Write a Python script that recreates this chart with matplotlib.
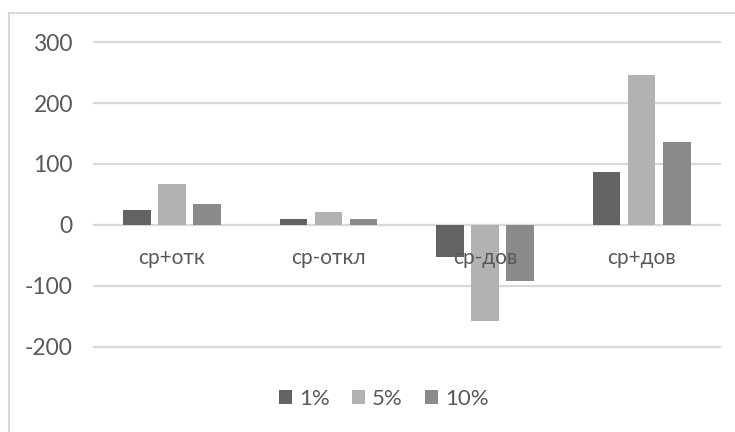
import matplotlib
matplotlib.use("Agg")
import matplotlib.pyplot as plt
from matplotlib.lines import Line2D
import numpy as np

# Grey palette
C_1 = "#636363"
C_5 = "#B2B2B2"
C_10 = "#8A8A8A"
C_GRID = "#D9D9D9"
C_TEXT = "#595959"

categories = ["ср+отк", "ср-откл", "ср-дов", "ср+дов"]
series_names = ["1%", "5%", "10%"]
vals_1 = [25, 10, -52, 87]
vals_5 = [67, 21, -158, 246]
vals_10 = [34, 9, -92, 136]
y_ticks = [-200, -100, 0, 100, 200, 300]

plt.rcParams.update({
    "font.family": ["Lato", "DejaVu Sans"],
    "font.size": 15,
    "text.color": C_TEXT,
})

fig = plt.figure(figsize=(7.35, 4.32), dpi=100)
ax = fig.add_axes([0.1275, 0.1975, 0.852, 0.705])

x = np.arange(len(categories))
w = 0.176
step = 0.224
series = [vals_1, vals_5, vals_10]
colors = [C_1, C_5, C_10]
for k, (vals, col, name) in enumerate(zip(series, colors, series_names)):
    ax.bar(x + (k - 1) * step, vals, width=w, color=col, label=name, zorder=1)

# horizontal gridlines drawn under the bars
for t in y_ticks:
    ax.axhline(t, color=C_GRID, lw=1.6, zorder=0, clip_on=False)

ax.set_xlim(-0.5, 3.5)
ax.set_ylim(-200, 300)
ax.set_yticks(y_ticks)
ax.set_yticklabels([str(t) for t in y_ticks], color=C_TEXT, fontsize=16.5)

ax.spines["bottom"].set_position(("data", 0))
for s in ax.spines.values():
    s.set_visible(False)
ax.set_xticks(x)
ax.set_xticklabels(categories, color=C_TEXT, fontsize=15)
ax.tick_params(axis="x", length=0, pad=17)
ax.tick_params(axis="y", length=0, pad=15)

leg = fig.legend(loc="center", bbox_to_anchor=(0.522, 0.076), ncol=3,
                 frameon=False, fontsize=16, handlelength=0.6,
                 handleheight=0.6, handletextpad=0.3, columnspacing=1.0)
for txt in leg.get_texts():
    txt.set_color(C_TEXT)

# chart border (left and top edges)
fig.add_artist(Line2D([0.0128, 0.0128], [0, 0.969], color=C_GRID, lw=1.5))
fig.add_artist(Line2D([0.0128, 1], [0.969, 0.969], color=C_GRID, lw=1.5))

fig.savefig("out.png", dpi=100, facecolor="white")
plt.close(fig)
